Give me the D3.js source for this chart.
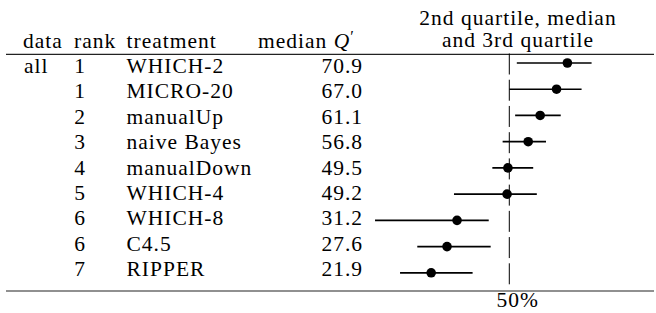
<!DOCTYPE html>
<html>
<head>
<meta charset="utf-8">
<script src="https://cdn.jsdelivr.net/npm/d3@7"></script>
<style>
  body { margin: 0; background: #fff; }
  text { font-family: "Liberation Serif", "Times New Roman", serif; font-size: 21.5px; fill: #000; letter-spacing: 1px; }
</style>
</head>
<body>
<div id="chart"></div>
<script>
var svgWidth = 656;
var svgHeight = 313;

// table rows
var dataLabels = ["all", "", "", "", "", "", "", "", ""];
var ranks = [1, 1, 2, 3, 4, 5, 6, 6, 7];
var treatments = ["WHICH-2", "MICRO-20", "manualUp", "naive Bayes", "manualDown", "WHICH-4", "WHICH-8", "C4.5", "RIPPER"];
var medians = [70.9, 67.0, 61.1, 56.8, 49.5, 49.2, 31.2, 27.6, 21.9];
var q1 = [52.7, 50.0, 52.1, 47.6, 43.9, 30.1, 1.7, 16.9, 10.7];
var q3 = [79.6, 76.0, 68.5, 63.2, 58.6, 59.9, 42.6, 43.3, 36.8];
var refValue = 50;

var rows = treatments.map(function(t, i) {
  return { data: dataLabels[i], rank: ranks[i], treatment: t, median: medians[i], q1: q1[i], q3: q3[i] };
});

var svg = d3.select("#chart")
  .append("svg")
  .attr("width", svgWidth)
  .attr("height", svgHeight);

var xScale = d3.scaleLinear()
  .domain([0, 100])
  .range([370.3, 648.3]);

// marks and text baselines don't share exactly the same row pitch
var yScale = d3.scalePoint()
  .domain(treatments)
  .range([63, 272.8]);

var textScale = d3.scalePoint()
  .domain(treatments)
  .range([73, 276]);

// column headers
svg.append("text").attr("x", 23).attr("y", 48).text("data");
svg.append("text").attr("x", 74).attr("y", 48).text("rank");
svg.append("text").attr("x", 126.5).attr("y", 48).text("treatment");

var medHead = svg.append("text")
  .attr("x", 258)
  .attr("y", 48);
medHead.append("tspan").text("median ");
medHead.append("tspan").attr("font-style", "italic").text("Q");
medHead.append("tspan").attr("font-size", "16px").attr("dy", -6).text("′");

svg.append("text")
  .attr("x", 518)
  .attr("y", 25)
  .attr("text-anchor", "middle")
  .text("2nd quartile, median");

svg.append("text")
  .attr("x", 518)
  .attr("y", 47)
  .attr("text-anchor", "middle")
  .text("and 3rd quartile");

// rules
svg.append("line")
  .attr("x1", 6).attr("x2", 654)
  .attr("y1", 54.3).attr("y2", 54.3)
  .attr("stroke", "#222")
  .attr("stroke-width", 1.2);

svg.append("line")
  .attr("x1", 6).attr("x2", 654)
  .attr("y1", 291).attr("y2", 291)
  .attr("stroke", "#222")
  .attr("stroke-width", 1.2);

// table cells
var rowGroup = svg.selectAll(".row")
  .data(rows)
  .enter()
  .append("g")
  .attr("class", "row");

rowGroup.append("text")
  .attr("x", 24)
  .attr("y", d => textScale(d.treatment))
  .text(d => d.data);

rowGroup.append("text")
  .attr("x", 80)
  .attr("y", d => textScale(d.treatment))
  .attr("text-anchor", "middle")
  .text(d => d.rank);

rowGroup.append("text")
  .attr("x", 126.5)
  .attr("y", d => textScale(d.treatment))
  .text(d => d.treatment);

rowGroup.append("text")
  .attr("x", 363)
  .attr("y", d => textScale(d.treatment))
  .attr("text-anchor", "end")
  .text(d => d.median.toFixed(1));

// 50% reference, one segment per row
rowGroup.append("line")
  .attr("x1", xScale(refValue))
  .attr("x2", xScale(refValue))
  .attr("y1", d => yScale(d.treatment) - 9.5)
  .attr("y2", d => yScale(d.treatment) + 11.5)
  .attr("stroke", "#000")
  .attr("stroke-width", 1);

// quartile range and median
rowGroup.append("line")
  .attr("x1", d => xScale(d.q1))
  .attr("x2", d => xScale(d.q3))
  .attr("y1", d => yScale(d.treatment))
  .attr("y2", d => yScale(d.treatment))
  .attr("stroke", "#000")
  .attr("stroke-width", 1.7);

rowGroup.append("circle")
  .attr("cx", d => xScale(d.median))
  .attr("cy", d => yScale(d.treatment))
  .attr("r", 4.8)
  .attr("fill", "#000");

svg.append("text")
  .attr("x", xScale(refValue) + 8.5)
  .attr("y", 307)
  .attr("text-anchor", "middle")
  .text(refValue + "%");
</script>
</body>
</html>
